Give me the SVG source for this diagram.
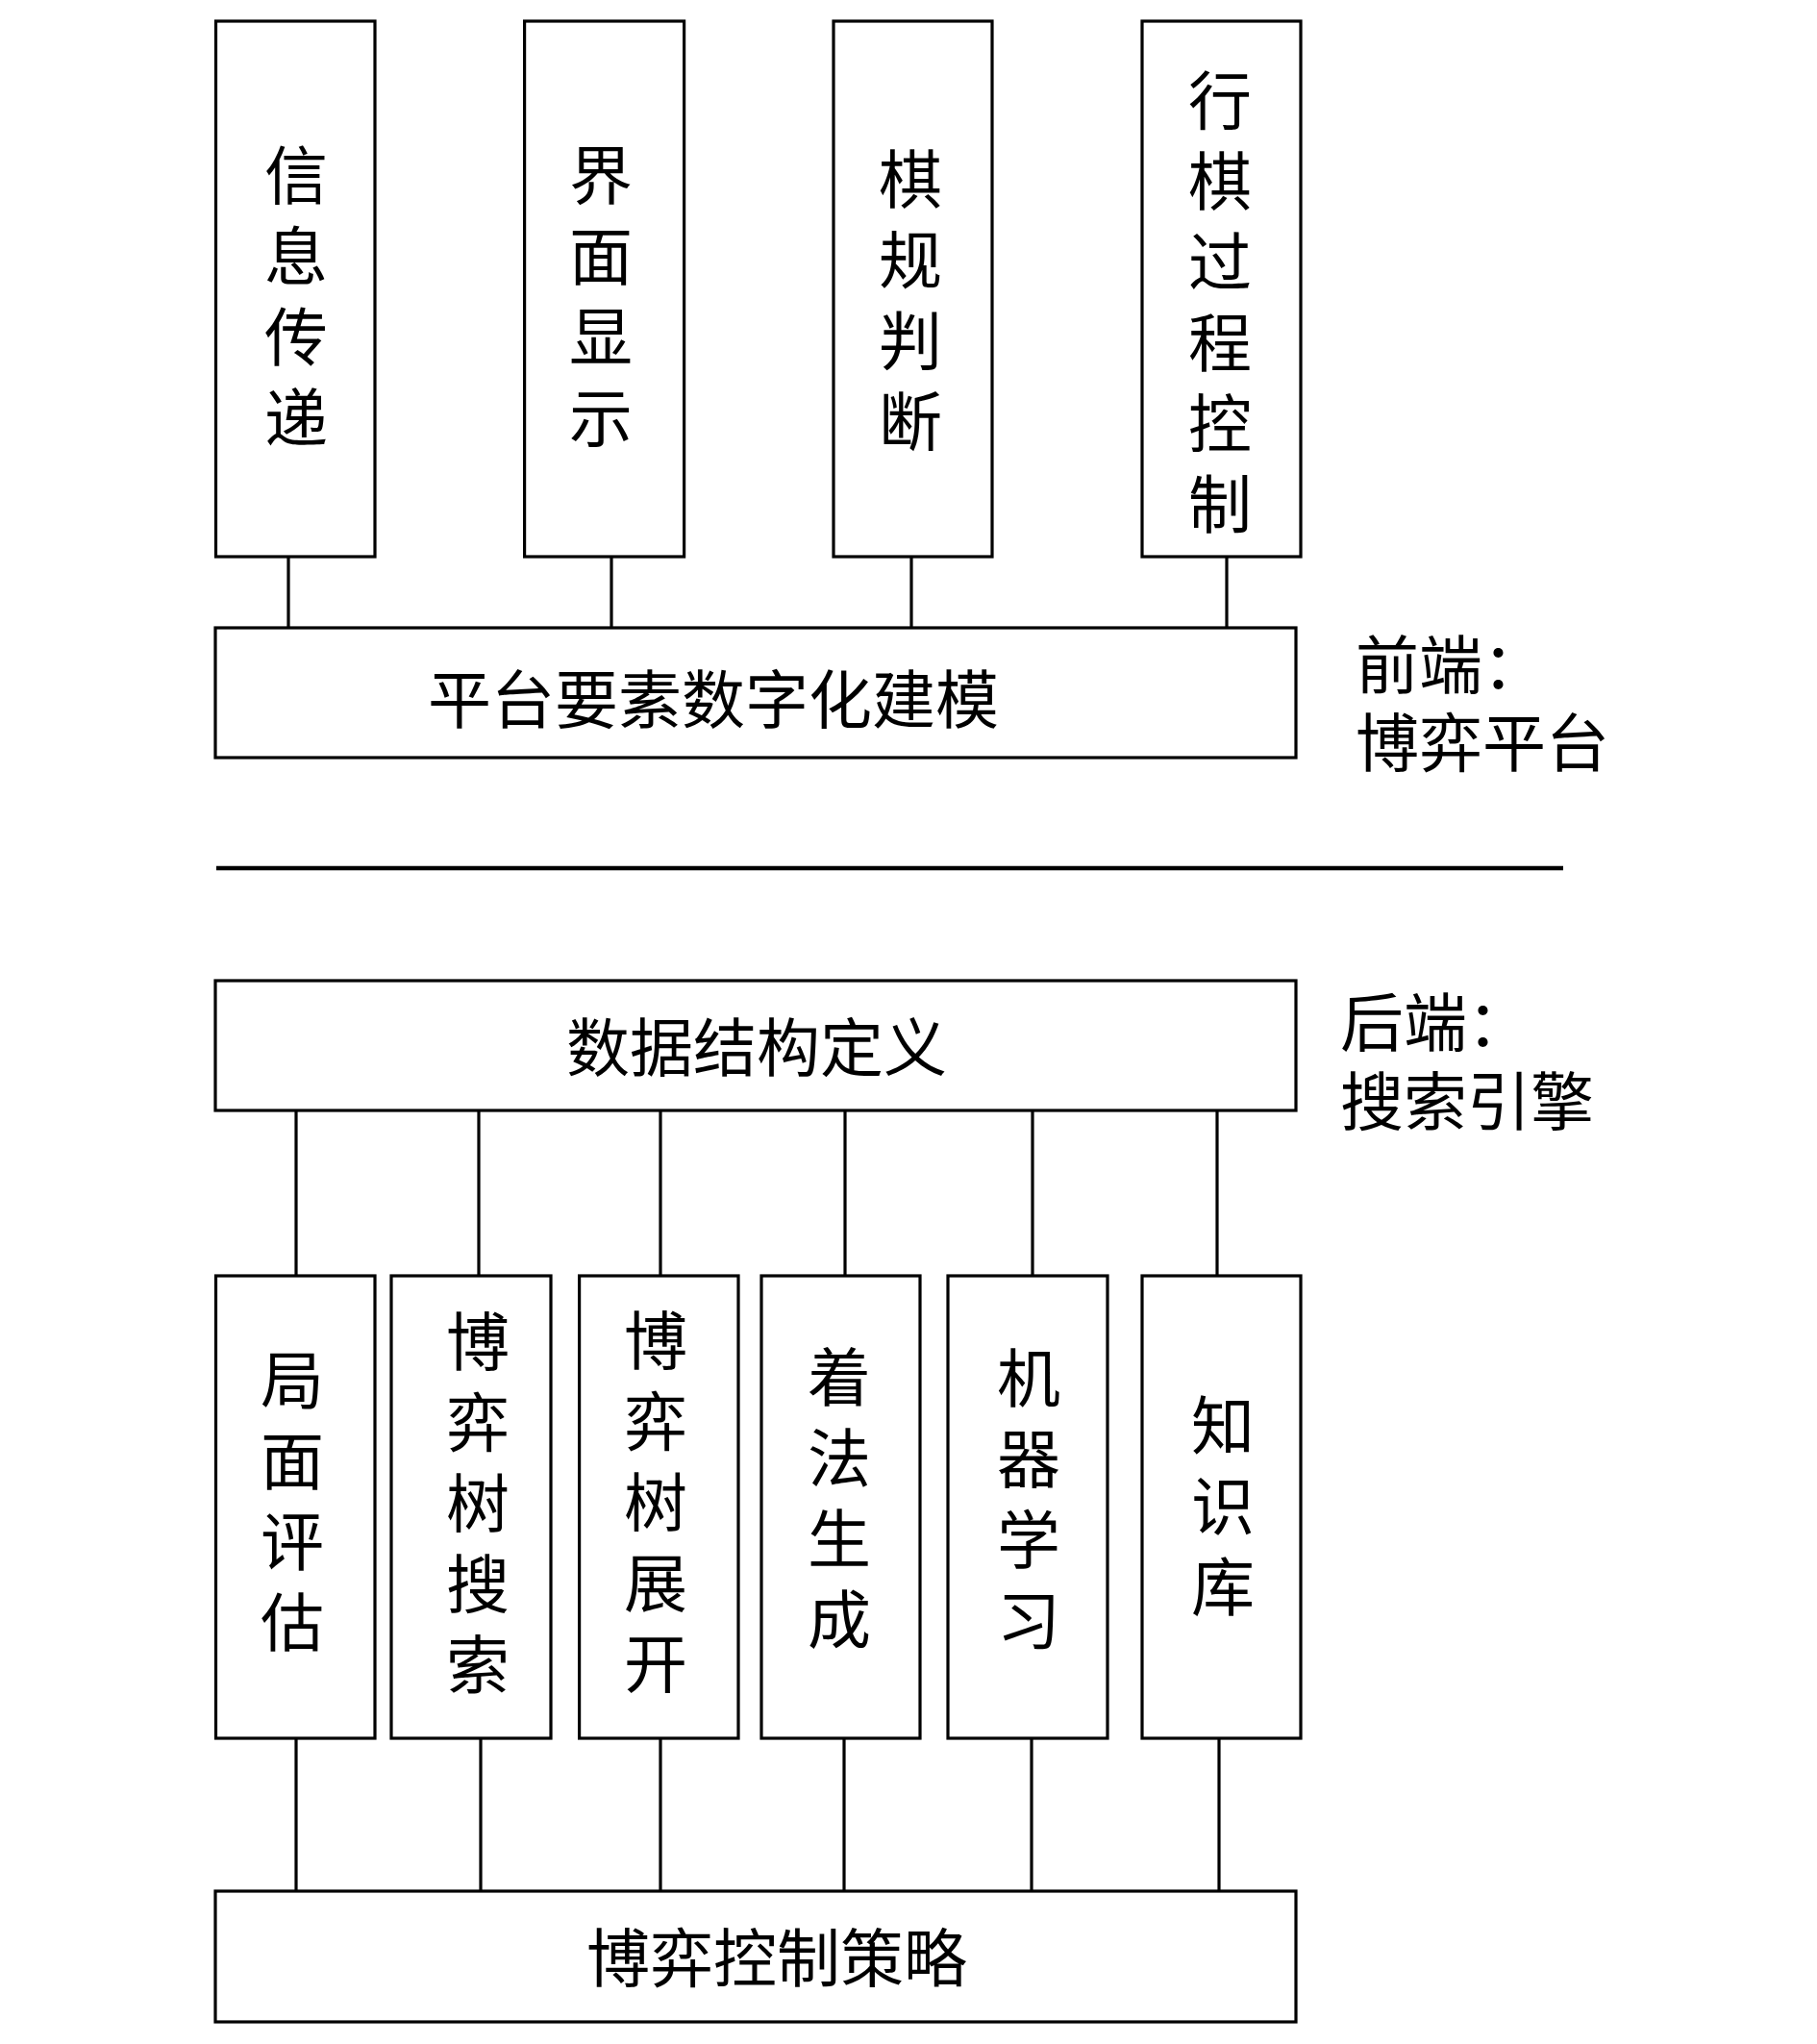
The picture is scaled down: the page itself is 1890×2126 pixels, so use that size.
<svg xmlns="http://www.w3.org/2000/svg" width="1890" height="2126" viewBox="0 0 1890 2126">
<style>
.box{fill:#fff;stroke:#000;stroke-width:3.2}
.ln{stroke:#000;stroke-width:3.2;fill:none}
.sep{stroke:#000;stroke-width:4.5}
text{font-family:"Noto Sans CJK SC","Noto Sans CJK TC",sans-serif;font-size:66px;fill:#000}
.c{text-anchor:middle}
</style>
<rect width="1890" height="2126" fill="#fff"/>
<g id="connectors">
<line class="ln" x1="300" y1="579" x2="300" y2="653"/>
<line class="ln" x1="636" y1="579" x2="636" y2="653"/>
<line class="ln" x1="948" y1="579" x2="948" y2="653"/>
<line class="ln" x1="1276" y1="579" x2="1276" y2="653"/>
<line class="ln" x1="308" y1="1155" x2="308" y2="1327"/>
<line class="ln" x1="498" y1="1155" x2="498" y2="1327"/>
<line class="ln" x1="687" y1="1155" x2="687" y2="1327"/>
<line class="ln" x1="879" y1="1155" x2="879" y2="1327"/>
<line class="ln" x1="1074" y1="1155" x2="1074" y2="1327"/>
<line class="ln" x1="1266" y1="1155" x2="1266" y2="1327"/>
<line class="ln" x1="308" y1="1808" x2="308" y2="1967"/>
<line class="ln" x1="500" y1="1808" x2="500" y2="1967"/>
<line class="ln" x1="687" y1="1808" x2="687" y2="1967"/>
<line class="ln" x1="878" y1="1808" x2="878" y2="1967"/>
<line class="ln" x1="1073" y1="1808" x2="1073" y2="1967"/>
<line class="ln" x1="1268" y1="1808" x2="1268" y2="1967"/>
</g>
<g id="separator">
<line class="sep" x1="225" y1="903" x2="1626" y2="903"/>
</g>
<g id="n-xinxi">
<rect class="box" x="224.5" y="22" width="165.5" height="557"/>
<text class="c" x="308" y="206.5"><tspan x="308">信</tspan><tspan x="308" dy="84">息</tspan><tspan x="308" dy="84">传</tspan><tspan x="308" dy="84">递</tspan></text>
</g>
<g id="n-jiemian">
<rect class="box" x="545.6" y="22" width="166" height="557"/>
<text class="c" x="625" y="207"><tspan x="625">界</tspan><tspan x="625" dy="84">面</tspan><tspan x="625" dy="84">显</tspan><tspan x="625" dy="84">示</tspan></text>
</g>
<g id="n-qigui">
<rect class="box" x="867" y="22" width="165" height="557"/>
<text class="c" x="947" y="211"><tspan x="947">棋</tspan><tspan x="947" dy="84">规</tspan><tspan x="947" dy="84">判</tspan><tspan x="947" dy="84">断</tspan></text>
</g>
<g id="n-xingqi">
<rect class="box" x="1188" y="22" width="165" height="557"/>
<text class="c" x="1269" y="129"><tspan x="1269">行</tspan><tspan x="1269" dy="84">棋</tspan><tspan x="1269" dy="84">过</tspan><tspan x="1269" dy="84">程</tspan><tspan x="1269" dy="84">控</tspan><tspan x="1269" dy="84">制</tspan></text>
</g>
<g id="n-pingtai">
<rect class="box" x="224" y="653" width="1124" height="135"/>
<text class="c" x="742" y="752">平台要素数字化建模</text>
</g>
<g id="label-front">
<text x="1410" y="716">前端：</text>
<text x="1410" y="797">博弈平台</text>
</g>
<g id="n-shuju">
<rect class="box" x="224" y="1020" width="1124" height="135"/>
<text class="c" x="787" y="1114">数据结构定义</text>
</g>
<g id="label-back">
<text x="1394" y="1088">后端：</text>
<text x="1394" y="1170">搜索引擎</text>
</g>
<g id="n-jumian">
<rect class="box" x="224.5" y="1327" width="165.5" height="481"/>
<text class="c" x="304" y="1460"><tspan x="304">局</tspan><tspan x="304" dy="84">面</tspan><tspan x="304" dy="84">评</tspan><tspan x="304" dy="84">估</tspan></text>
</g>
<g id="n-sousuo">
<rect class="box" x="407" y="1327" width="166" height="481"/>
<text class="c" x="497" y="1420"><tspan x="497">博</tspan><tspan x="497" dy="84">弈</tspan><tspan x="497" dy="84">树</tspan><tspan x="497" dy="84">搜</tspan><tspan x="497" dy="84">索</tspan></text>
</g>
<g id="n-zhankai">
<rect class="box" x="602.6" y="1327" width="165.4" height="481"/>
<text class="c" x="682" y="1419"><tspan x="682">博</tspan><tspan x="682" dy="84">弈</tspan><tspan x="682" dy="84">树</tspan><tspan x="682" dy="84">展</tspan><tspan x="682" dy="84">开</tspan></text>
</g>
<g id="n-zhaofa">
<rect class="box" x="792" y="1327" width="165" height="481"/>
<text class="c" x="873" y="1457"><tspan x="873">着</tspan><tspan x="873" dy="84">法</tspan><tspan x="873" dy="84">生</tspan><tspan x="873" dy="84">成</tspan></text>
</g>
<g id="n-jiqi">
<rect class="box" x="986" y="1327" width="166" height="481"/>
<text class="c" x="1070" y="1458"><tspan x="1070">机</tspan><tspan x="1070" dy="84">器</tspan><tspan x="1070" dy="84">学</tspan><tspan x="1070" dy="84">习</tspan></text>
</g>
<g id="n-zhishi">
<rect class="box" x="1188" y="1327" width="165" height="481"/>
<text class="c" x="1272" y="1507"><tspan x="1272">知</tspan><tspan x="1272" dy="84">识</tspan><tspan x="1272" dy="84">库</tspan></text>
</g>
<g id="n-celue">
<rect class="box" x="224" y="1967" width="1124" height="136"/>
<text class="c" x="808" y="2061">博弈控制策略</text>
</g>
</svg>
